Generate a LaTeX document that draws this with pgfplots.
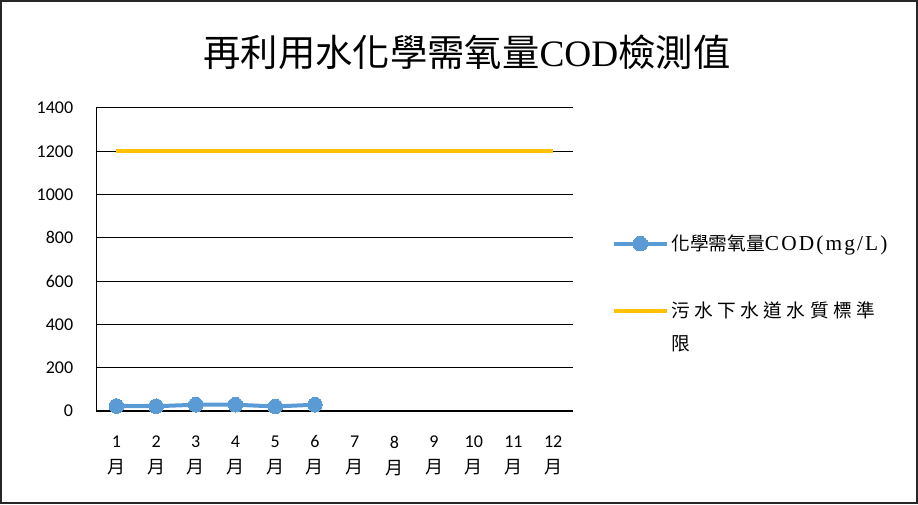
\documentclass[border=0pt]{standalone}
\usepackage{fontspec}
\setmainfont{Carlito}
\newfontfamily\cjk{Noto Sans CJK TC}
\newfontfamily\serif{Liberation Serif}
\newfontfamily\legserif[LetterSpace=10]{Liberation Serif}
\usepackage{pgfplots}
\pgfplotsset{compat=1.18}
\definecolor{codblue}{HTML}{5B9BD5}
\definecolor{stdorange}{HTML}{FFC000}
\newcommand{\mo}[1]{#1\\{\cjk 月}}
\begin{document}
\begin{tikzpicture}[x=0.75pt,y=0.75pt]
\begin{axis}[
  at={(0,0)}, anchor=south west, scale only axis,
  width=357.4pt, height=227.25pt,
  xmin=0.5, xmax=12.5, ymin=0, ymax=1400,
  ytick={0,200,...,1400},
  xtick={1,...,12},
  xticklabels={\mo{1},\mo{2},\mo{3},\mo{4},\mo{5},\mo{6},\mo{7},\mo{8},\mo{9},\mo{10},\mo{11},\mo{12}},
  xticklabel style={align=center, font=\fontsize{13.5}{19.5}\selectfont, yshift=-15pt},
  yticklabel style={font=\fontsize{13.5}{16}\selectfont, xshift=-14pt},
  /pgf/number format/assume math mode=true,
  /pgf/number format/1000 sep={},
  axis x line*=bottom, axis y line*=left,
  axis line style={-, black, line width=0.9pt},
  major tick length=0pt,
  ymajorgrids, grid style={black, line width=0.75pt},
  legend style={at={(1.072,0.60)}, anchor=north west, draw=none, fill=none,
    font=\fontsize{14}{25}\selectfont, row sep=33pt, cells={anchor=west, inner sep=2pt}},
  legend image code/.code={\draw[mark repeat=2,mark phase=2,#1] plot coordinates {(0pt,0pt) (20pt,0pt) (40pt,0pt)};},
]
\addplot[codblue, line width=3pt, mark=*, mark size=5.5pt, mark options={solid, fill=codblue, draw=codblue, line width=0pt}]
  coordinates {(1,23)(2,22)(3,29)(4,29)(5,21)(6,29)};
\addlegendentry{{\cjk 化學需氧量}{\legserif\fontsize{16}{25}\selectfont COD(mg/L)}}
\addplot[stdorange, line width=3pt, mark=none]
  coordinates {(1,1200)(2,1200)(3,1200)(4,1200)(5,1200)(6,1200)(7,1200)(8,1200)(9,1200)(10,1200)(11,1200)(12,1200)};
\addlegendentry{\raisebox{0pt}[\height][0pt]{\parbox[t]{180pt}{\cjk 污\hspace{3.3pt}水\hspace{3.3pt}下\hspace{3.3pt}水\hspace{3.3pt}道\hspace{3.3pt}水\hspace{3.3pt}質\hspace{3.3pt}標\hspace{3.3pt}準\\限}}}
\end{axis}
\node[font=\fontsize{28}{32}\selectfont] at (370.5,359) {\cjk 再利用水化學需氧量{\serif COD}檢測值};
\draw[line width=1.5pt, black!85] (-95.5,-92) rectangle (820.5,410);
\pgfresetboundingbox
\useasboundingbox (-96.5,-93) rectangle (821.5,411);
\end{tikzpicture}
\end{document}
